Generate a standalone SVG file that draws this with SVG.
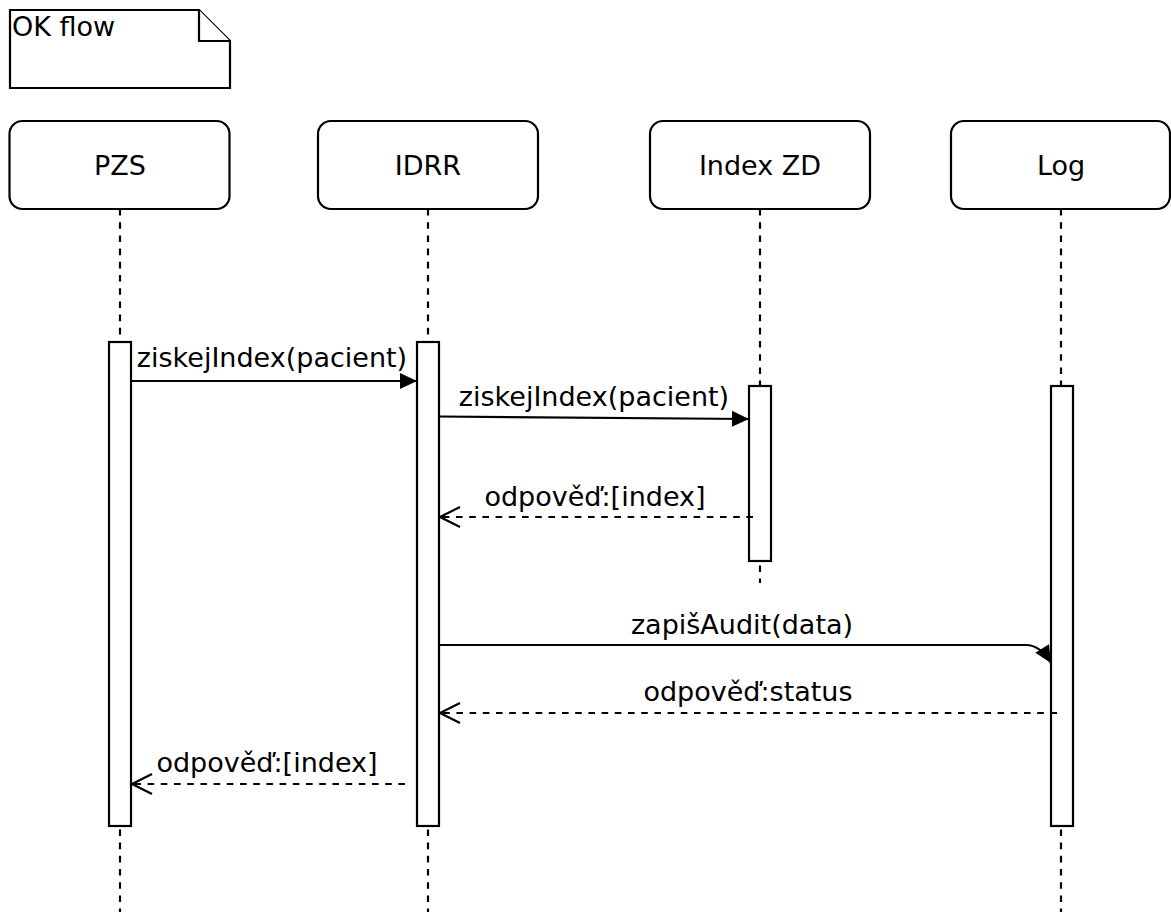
<svg xmlns="http://www.w3.org/2000/svg" width="1171" height="912" viewBox="0 0 1171 912">
  <style>
    .box { fill: #fff; stroke: #000; stroke-width: 2.2; }
    .life { stroke: #000; stroke-width: 2.2; stroke-dasharray: 6.6 6.6; fill: none; }
    .act { fill: #fff; stroke: #000; stroke-width: 2.2; }
    .msg { stroke: #000; stroke-width: 2.2; fill: none; }
    .ret { stroke: #000; stroke-width: 2.2; fill: none; stroke-dasharray: 6.6 6.6; }
    text { font-family: "DejaVu Sans", Verdana, sans-serif; font-size: 27px; fill: #000; }
    .c { text-anchor: middle; }
  </style>
  <defs>
    <marker id="block" markerUnits="userSpaceOnUse" markerWidth="18" markerHeight="17" refX="17" refY="8" orient="auto" overflow="visible">
      <path d="M0,0 L17,8 L0,16 Z" fill="#000" stroke="none"/>
    </marker>
    <marker id="open" markerUnits="userSpaceOnUse" markerWidth="22" markerHeight="22" refX="20" refY="10" orient="auto" overflow="visible">
      <path d="M0,0 L20,10 L0,20" fill="none" stroke="#000" stroke-width="2.2"/>
    </marker>
  </defs>
  <rect width="1171" height="912" fill="#fff"/>

  <!-- note -->
  <g id="note">
    <path class="box" d="M10,10 H199 L230,41 V88 H10 Z"/>
    <path class="box" d="M199,10 V41 H230" fill="none"/>
    <text x="12" y="36">OK flow</text>
  </g>

  <!-- lifelines -->
  <g id="pzs">
    <line class="life" x1="120" y1="209" x2="120" y2="912"/>
    <rect class="box" x="9.5" y="121" width="220" height="88" rx="13"/>
    <text class="c" x="120" y="175">PZS</text>
    <rect class="act" x="109" y="342" width="22" height="484"/>
  </g>
  <g id="idrr">
    <line class="life" x1="428" y1="209" x2="428" y2="912"/>
    <rect class="box" x="318" y="121" width="220" height="88" rx="13"/>
    <text class="c" x="428" y="175">IDRR</text>
    <rect class="act" x="417" y="342" width="22" height="484"/>
  </g>
  <g id="indexzd">
    <line class="life" x1="760" y1="209" x2="760" y2="583"/>
    <rect class="box" x="650" y="121" width="220" height="88" rx="13"/>
    <text class="c" x="760" y="175">Index ZD</text>
    <rect class="act" x="749" y="386" width="22" height="175"/>
  </g>
  <g id="log">
    <line class="life" x1="1061" y1="209" x2="1061" y2="912"/>
    <rect class="box" x="951" y="121" width="219" height="88" rx="13"/>
    <text class="c" x="1061" y="175">Log</text>
    <rect class="act" x="1051" y="386" width="22" height="440"/>
  </g>

  <!-- messages -->
  <g id="connectors">
    <line class="msg" x1="131" y1="381" x2="417" y2="381" marker-end="url(#block)"/>
    <text class="c" x="272" y="367">ziskejIndex(pacient)</text>

    <line class="msg" x1="440" y1="416.5" x2="749" y2="419" marker-end="url(#block)"/>
    <text class="c" x="594" y="406">ziskejIndex(pacient)</text>

    <line class="ret" x1="753" y1="517" x2="440" y2="517" marker-end="url(#open)"/>
    <text class="c" x="595" y="506">odpověď:[index]</text>

    <path class="msg" d="M440,645 H1026 Q1040,645 1051,663" marker-end="url(#block)"/>
    <text class="c" x="742" y="634">zapišAudit(data)</text>

    <line class="ret" x1="1057" y1="713" x2="440" y2="713" marker-end="url(#open)"/>
    <text class="c" x="748" y="701">odpověď:status</text>

    <line class="ret" x1="405" y1="784" x2="132" y2="784" marker-end="url(#open)"/>
    <text class="c" x="267" y="772">odpověď:[index]</text>
  </g>
</svg>
